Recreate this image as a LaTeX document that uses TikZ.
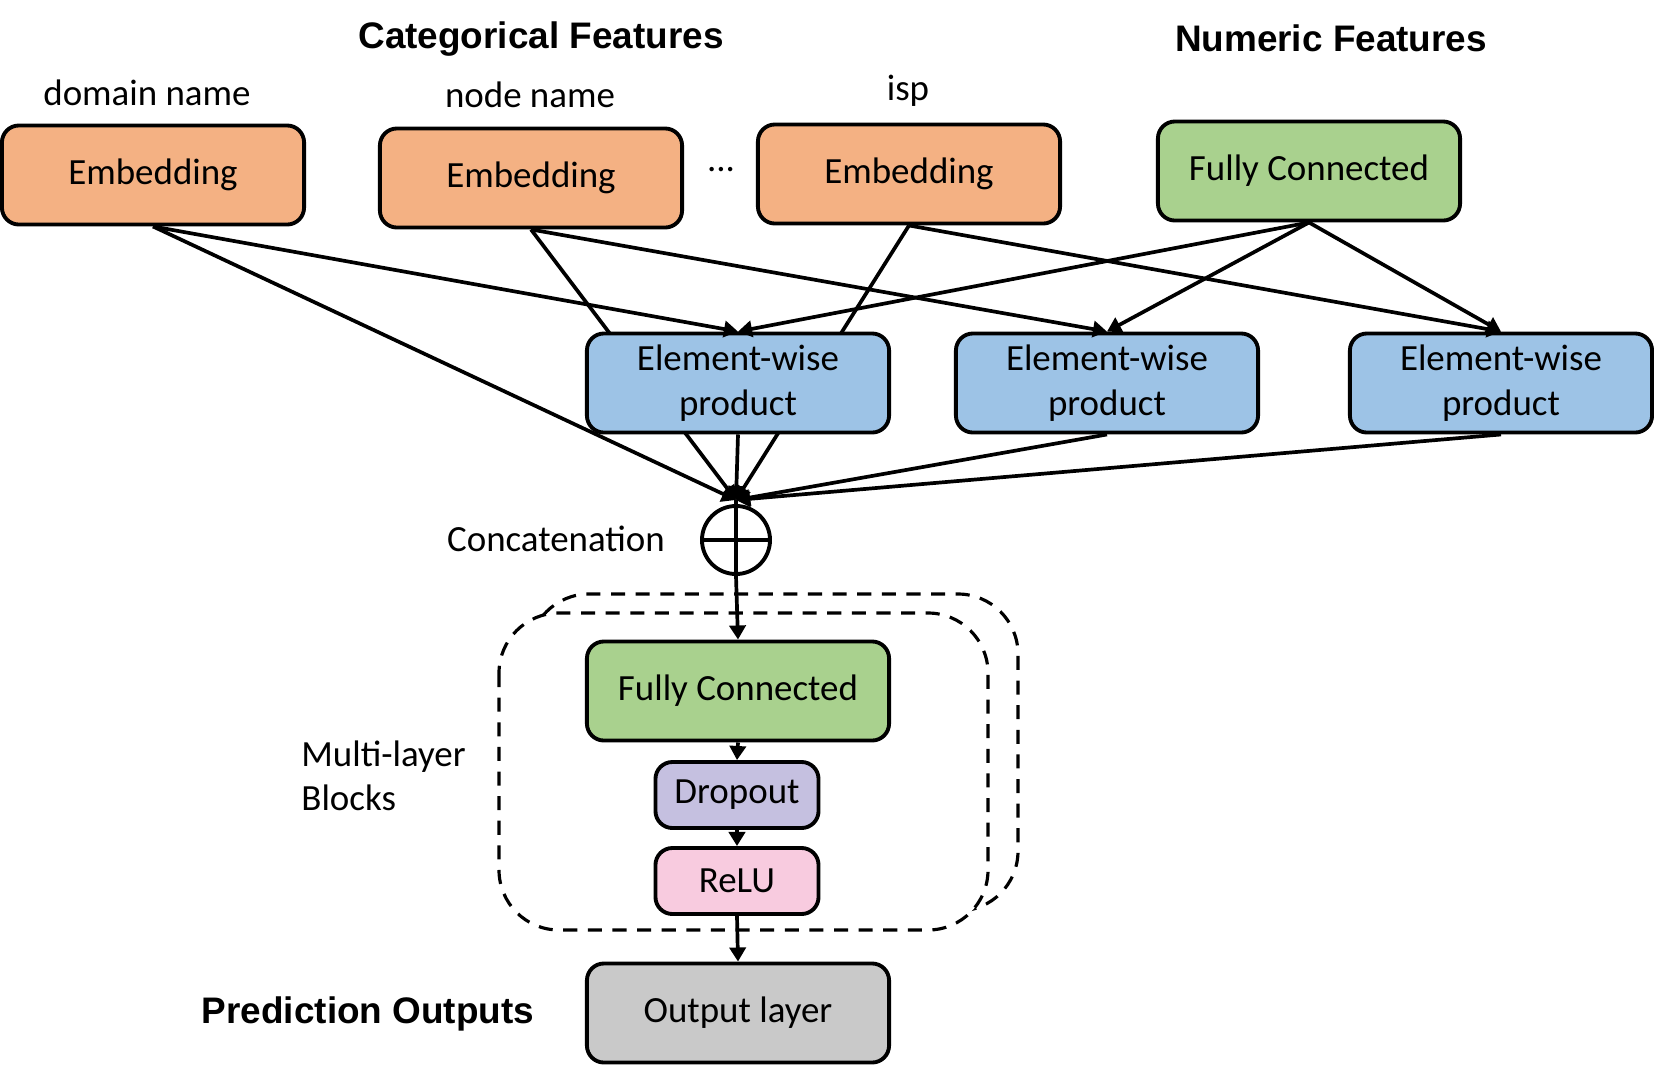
\documentclass[tikz,border=0pt]{standalone}
\usepackage{fontspec}
\setmainfont{Carlito}
\newfontfamily\headfont{Liberation Sans}
\usepackage{xcolor}
\usetikzlibrary{arrows.meta,positioning,backgrounds}

\definecolor{embcol}{HTML}{F4B183}
\definecolor{fccol}{HTML}{A9D18E}
\definecolor{ewcol}{HTML}{9DC3E6}
\definecolor{dropcol}{HTML}{C5C0E0}
\definecolor{relucol}{HTML}{F8CBDF}
\definecolor{outcol}{HTML}{C9C9C9}

\begin{document}
\begin{tikzpicture}[x=0.01cm, y=-0.01cm,
    >={Triangle[length=4pt,width=4.6pt]},
    box/.style={draw, line width=1.1pt, rounded corners=0.17cm, minimum width=3.02cm,
        minimum height=0.99cm, inner sep=2pt, align=center, font=\fontsize{10.5}{12.6}\selectfont},
    smallbox/.style={box, minimum width=1.63cm, minimum height=0.66cm},
    wire/.style={line width=1.05pt},
    tag/.style={font=\fontsize{10.5}{12.6}\selectfont},
    heading/.style={font=\fontsize{10.5}{12.6}\headfont\bfseries}]
    \useasboundingbox (0,0) rectangle (1654,1066);

    % Headings
    \node[heading] (cathead) at (541,39) {Categorical Features};
    \node[heading] (numhead) at (1331,38) {Numeric Features};
    \node[heading] (predhead) at (368,1014) {Prediction Outputs};

    % Input features
    \node[tag] (domlab) at (147,93) {domain name};
    \node[tag] (nodelab) at (530,95) {node name};
    \node[tag] (isplab) at (908,91) {isp};
    \node[box, fill=embcol] (emb1) at (153,175) {Embedding};
    \node[box, fill=embcol] (emb2) at (531,178) {Embedding};
    \node[box, fill=embcol] (emb3) at (909,174) {Embedding};
    \node[tag] (dots) at (721,170) {...};
    \node[box, fill=fccol] (fcn) at (1309,171) {Fully Connected};

    % Element-wise products
    \node[box, fill=ewcol] (ew1) at (738,383) {Element-wise\\product};
    \node[box, fill=ewcol] (ew2) at (1107,383) {Element-wise\\product};
    \node[box, fill=ewcol] (ew3) at (1501,383) {Element-wise\\product};

    % Concatenation
    \coordinate (cat) at (736,500);
    \node[draw, circle, line width=1.1pt, minimum size=0.68cm, inner sep=0pt] (sum) at (736,540) {};
    \draw[line width=1.1pt] (sum.north) -- (sum.south) (sum.west) -- (sum.east);
    \node[tag] (catlab) at (556,539) {Concatenation};

    % Products of pairs
    \draw[wire, ->] (emb1.south) -- (ew1.north);
    \draw[wire, ->] (emb2.south) -- (ew2.north);
    \draw[wire, ->] (emb3.south) -- (ew3.north);
    \draw[wire, ->] (fcn.south) -- (ew1.north);
    \draw[wire, ->] (fcn.south) -- (ew2.north);
    \draw[wire, ->] (fcn.south) -- (ew3.north);

    % Everything into the concatenation
    \begin{scope}[on background layer]
        \draw[wire, ->] (emb2.south) -- (cat);
        \draw[wire, ->] (emb3.south) -- (cat);
    \end{scope}
    \draw[wire, ->] (emb1.south) -- (cat);
    \draw[wire, ->] (ew1.south) -- (cat);
    \draw[wire, ->] (ew2.south) -- (cat);
    \draw[wire, ->] (ew3.south) -- (cat);
    \draw[wire] (cat) -- (sum.north);

    % Multi-layer blocks
    \draw[line width=0.9pt, dash pattern=on 4pt off 3pt, rounded corners=0.6cm] (529,594) rectangle (1018,911);
    \draw[line width=0.9pt, dash pattern=on 4pt off 3pt, rounded corners=0.6cm, fill=white] (499,613) rectangle (988,930);
    \node[tag, align=left, anchor=west] (mlab) at (289,776) {Multi-layer\\Blocks};
    \node[box, fill=fccol] (fc2) at (738,691) {Fully Connected};
    \node[smallbox, fill=dropcol] (drop) at (737,795) {Dropout};
    \node[smallbox, fill=relucol] (relu) at (737,881) {ReLU};

    % Output
    \node[box, fill=outcol] (out) at (738,1013) {Output layer};

    \draw[wire, ->] (sum.south) -- (fc2.north);
    \draw[wire, ->] (fc2.south) -- (drop.north);
    \draw[wire, ->] (drop.south) -- (relu.north);
    \draw[wire, ->] (relu.south) -- (out.north);
\end{tikzpicture}
\end{document}
